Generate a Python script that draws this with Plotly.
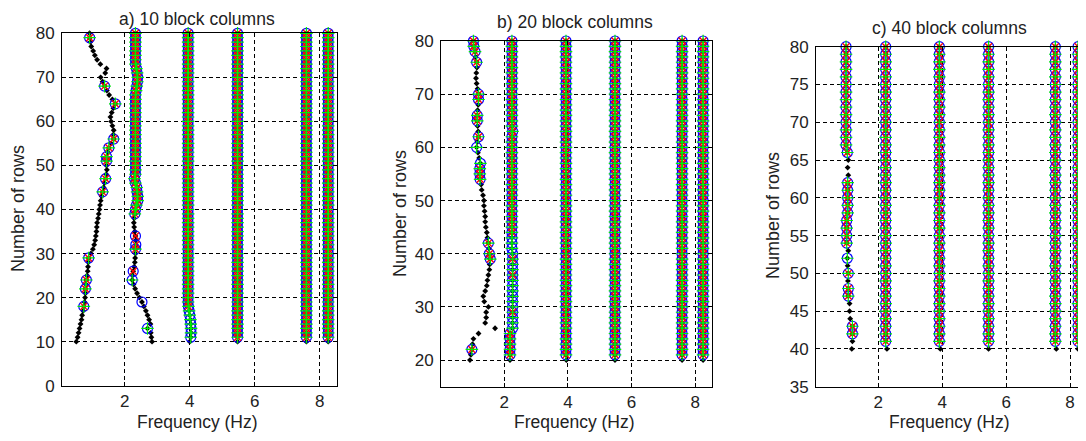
import plotly.graph_objects as go

# ---------------- Panel a) 10 block columns ----------------
ROWS_A = [10, 11, 12, 13, 14, 15, 16, 17, 18, 19,
          20, 21, 22, 23, 24, 25, 26, 27, 28, 29,
          30, 31, 32, 33, 34, 35, 36, 37, 38, 39,
          40, 41, 42, 43, 44, 45, 46, 47, 48, 49,
          50, 51, 52, 53, 54, 55, 56, 57, 58, 59,
          60, 61, 62, 63, 64, 65, 66, 67, 68, 69,
          70, 71, 72, 73, 74, 75, 76, 77, 78, 79, 80]
A_M1 = [0.51, 0.55, 0.58, 0.61, 0.64, 0.67, 0.69, 0.72, 0.74, 0.76,
        0.78, 0.79, 0.79, 0.81, 0.82, 0.84, 0.86, 0.87, 0.88, 0.89,
        0.96, 1.02, 1.06, 1.09, 1.11, 1.13, 1.14, 1.15, 1.18, 1.20,
        1.22, 1.24, 1.26, 1.29, 1.32, 1.35, 1.38, 1.41, 1.43, 1.45,
        1.44, 1.44, 1.44, 1.48, 1.51, 1.58, 1.66, 1.65, 1.66, 1.62,
        1.58, 1.56, 1.60, 1.65, 1.71, 1.62, 1.52, 1.45, 1.38, 1.32,
        1.26, 1.40, 1.44, 1.25, 1.15, 1.08, 1.03, 0.97, 0.94, 0.92, 0.92]
A_M2 = [2.84, 2.82, 2.80, 2.70, 2.79, 2.75, 2.70, 2.65, 2.59, 2.53,
        2.45, 2.38, 2.32, 2.27, 2.23, 2.24, 2.26, 2.29, 2.31, 2.32,
        2.33, 2.33, 2.34, 2.34, 2.33, 2.31, 2.29, 2.28, 2.29, 2.31,
        2.33, 2.36, 2.40, 2.40, 2.38, 2.37, 2.33, 2.30, 2.33, 2.33,
        2.33, 2.33, 2.33, 2.33, 2.33, 2.33, 2.33, 2.33, 2.33, 2.33,
        2.33, 2.33, 2.33, 2.33, 2.33, 2.33, 2.33, 2.35, 2.37, 2.39,
        2.40, 2.38, 2.36, 2.33, 2.33, 2.33, 2.33, 2.33, 2.33, 2.33, 2.33]
A_M3 = [4.00, 4.03, 4.04, 4.04, 4.03, 4.02, 4.00, 3.98, 3.96, 3.95,
        3.95, 3.95, 3.95, 3.95, 3.95, 3.95, 3.95, 3.95, 3.95, 3.95,
        3.95, 3.95, 3.95, 3.95, 3.95, 3.95, 3.95, 3.95, 3.95, 3.95,
        3.95, 3.95, 3.95, 3.95, 3.95, 3.95, 3.95, 3.95, 3.95, 3.95,
        3.95, 3.95, 3.95, 3.95, 3.95, 3.95, 3.95, 3.95, 3.95, 3.95,
        3.95, 3.95, 3.95, 3.95, 3.95, 3.95, 3.95, 3.95, 3.95, 3.95,
        3.95, 3.95, 3.95, 3.95, 3.95, 3.95, 3.95, 3.95, 3.95, 3.95, 3.95]
A_M4 = [5.47, 5.47, 5.47, 5.47, 5.47, 5.47, 5.47, 5.47, 5.47, 5.47,
        5.47, 5.47, 5.47, 5.47, 5.47, 5.47, 5.47, 5.47, 5.47, 5.47,
        5.47, 5.47, 5.47, 5.47, 5.47, 5.47, 5.47, 5.47, 5.47, 5.47,
        5.47, 5.47, 5.47, 5.47, 5.47, 5.47, 5.47, 5.47, 5.47, 5.47,
        5.47, 5.47, 5.47, 5.47, 5.47, 5.47, 5.47, 5.47, 5.47, 5.47,
        5.47, 5.47, 5.47, 5.47, 5.47, 5.47, 5.47, 5.47, 5.47, 5.47,
        5.47, 5.47, 5.47, 5.47, 5.47, 5.47, 5.47, 5.47, 5.47, 5.47, 5.47]
A_M5 = [7.59, 7.59, 7.59, 7.59, 7.59, 7.59, 7.59, 7.59, 7.59, 7.59,
        7.59, 7.59, 7.59, 7.59, 7.59, 7.59, 7.59, 7.59, 7.59, 7.59,
        7.59, 7.59, 7.59, 7.59, 7.59, 7.59, 7.59, 7.59, 7.59, 7.59,
        7.59, 7.59, 7.59, 7.59, 7.59, 7.59, 7.59, 7.59, 7.59, 7.59,
        7.59, 7.59, 7.59, 7.59, 7.59, 7.59, 7.59, 7.59, 7.59, 7.59,
        7.59, 7.59, 7.59, 7.59, 7.59, 7.59, 7.59, 7.59, 7.59, 7.59,
        7.59, 7.59, 7.59, 7.59, 7.59, 7.59, 7.59, 7.59, 7.59, 7.59, 7.59]
A_M6 = [8.26, 8.26, 8.26, 8.26, 8.26, 8.26, 8.26, 8.26, 8.26, 8.26,
        8.26, 8.26, 8.26, 8.26, 8.26, 8.26, 8.26, 8.26, 8.26, 8.26,
        8.26, 8.26, 8.26, 8.26, 8.26, 8.26, 8.26, 8.26, 8.26, 8.26,
        8.26, 8.26, 8.26, 8.26, 8.26, 8.26, 8.26, 8.26, 8.26, 8.26,
        8.26, 8.26, 8.26, 8.26, 8.26, 8.26, 8.26, 8.26, 8.26, 8.26,
        8.26, 8.26, 8.26, 8.26, 8.26, 8.26, 8.26, 8.26, 8.26, 8.26,
        8.26, 8.26, 8.26, 8.26, 8.26, 8.26, 8.26, 8.26, 8.26, 8.26, 8.26]
# rows where each identification method marks a mode (circle / x / plus)
A_M1_O = [18, 22, 24, 29, 44, 47, 51, 52, 54, 56, 64, 68, 79]
A_M1_X = [18, 22, 24, 29, 44, 47, 51, 52, 54, 56, 64, 68, 79]
A_M1_P = [18, 22, 24, 29, 44, 47, 51, 52, 54, 56, 64, 68, 79]
A_M2_O = [13, 19, 24, 26, 31, 32, 34] + ROWS_A[29:]
A_M2_X = [26, 31, 32, 34] + ROWS_A[29:]
A_M2_P = [13, 24, 31] + ROWS_A[29:]
A_M3_X = ROWS_A[8:]
A_COL = ROWS_A[1:]

# ---------------- Panel b) 20 block columns ----------------
ROWS_B = [20, 21, 22, 23, 24, 25, 26, 27, 28, 29,
          30, 31, 32, 33, 34, 35, 36, 37, 38, 39,
          40, 41, 42, 43, 44, 45, 46, 47, 48, 49,
          50, 51, 52, 53, 54, 55, 56, 57, 58, 59,
          60, 61, 62, 63, 64, 65, 66, 67, 68, 69,
          70, 71, 72, 73, 74, 75, 76, 77, 78, 79, 80]
B_M1 = [0.92, 0.95, 0.98, 1.00, 1.03, 1.19, 1.71, 1.40, 1.43, 1.43,
        1.50, 1.37, 1.34, 1.40, 1.45, 1.47, 1.50, 1.53, 1.54, 1.56,
        1.53, 1.52, 1.50, 1.47, 1.45, 1.42, 1.40, 1.40, 1.38, 1.36,
        1.36, 1.33, 1.29, 1.27, 1.24, 1.23, 1.23, 1.25, 1.21, 1.17,
        1.13, 1.15, 1.19, 1.18, 1.16, 1.15, 1.15, 1.16, 1.18, 1.19,
        1.19, 1.16, 1.13, 1.11, 1.12, 1.14, 1.13, 1.10, 1.08, 1.04, 1.03]
B_M2 = [2.18, 2.18, 2.18, 2.18, 2.18, 2.18, 2.26, 2.26, 2.26, 2.26,
        2.26, 2.26, 2.26, 2.26, 2.26, 2.26, 2.26, 2.26, 2.26, 2.26,
        2.26, 2.24, 2.24, 2.24, 2.24, 2.24, 2.24, 2.24, 2.24, 2.24,
        2.24, 2.24, 2.24, 2.24, 2.24, 2.24, 2.24, 2.24, 2.24, 2.24,
        2.24, 2.24, 2.24, 2.26, 2.24, 2.24, 2.24, 2.24, 2.24, 2.24,
        2.24, 2.24, 2.24, 2.24, 2.24, 2.24, 2.24, 2.24, 2.24, 2.24, 2.24]
B_M3 = [3.95, 3.94, 3.94, 3.94, 3.94, 3.94, 3.94, 3.94, 3.94, 3.94,
        3.94, 3.94, 3.94, 3.94, 3.94, 3.94, 3.94, 3.94, 3.94, 3.94,
        3.94, 3.94, 3.94, 3.94, 3.94, 3.94, 3.94, 3.94, 3.94, 3.94,
        3.94, 3.94, 3.94, 3.94, 3.94, 3.94, 3.94, 3.94, 3.94, 3.94,
        3.94, 3.94, 3.94, 3.94, 3.94, 3.94, 3.94, 3.94, 3.94, 3.94,
        3.94, 3.94, 3.94, 3.94, 3.94, 3.94, 3.94, 3.94, 3.94, 3.94, 3.94]
B_M4 = [5.48, 5.48, 5.48, 5.48, 5.48, 5.48, 5.48, 5.48, 5.48, 5.48,
        5.48, 5.48, 5.48, 5.48, 5.48, 5.48, 5.48, 5.48, 5.48, 5.48,
        5.48, 5.48, 5.48, 5.48, 5.48, 5.48, 5.48, 5.48, 5.48, 5.48,
        5.48, 5.48, 5.48, 5.48, 5.48, 5.48, 5.48, 5.48, 5.48, 5.48,
        5.48, 5.48, 5.48, 5.48, 5.48, 5.48, 5.48, 5.48, 5.48, 5.48,
        5.48, 5.48, 5.48, 5.48, 5.48, 5.48, 5.48, 5.48, 5.48, 5.48, 5.48]
B_M5 = [7.59, 7.59, 7.59, 7.59, 7.59, 7.59, 7.59, 7.59, 7.59, 7.59,
        7.59, 7.59, 7.59, 7.59, 7.59, 7.59, 7.59, 7.59, 7.59, 7.59,
        7.59, 7.59, 7.59, 7.59, 7.59, 7.59, 7.59, 7.59, 7.59, 7.59,
        7.59, 7.59, 7.59, 7.59, 7.59, 7.59, 7.59, 7.59, 7.59, 7.59,
        7.59, 7.59, 7.59, 7.59, 7.59, 7.59, 7.59, 7.59, 7.59, 7.59,
        7.59, 7.59, 7.59, 7.59, 7.59, 7.59, 7.59, 7.59, 7.59, 7.59, 7.59]
B_M6 = [8.25, 8.25, 8.25, 8.25, 8.25, 8.25, 8.25, 8.25, 8.25, 8.25,
        8.25, 8.25, 8.25, 8.25, 8.25, 8.25, 8.25, 8.25, 8.25, 8.25,
        8.25, 8.25, 8.25, 8.25, 8.25, 8.25, 8.25, 8.25, 8.25, 8.25,
        8.25, 8.25, 8.25, 8.25, 8.25, 8.25, 8.25, 8.25, 8.25, 8.25,
        8.25, 8.25, 8.25, 8.25, 8.25, 8.25, 8.25, 8.25, 8.25, 8.25,
        8.25, 8.25, 8.25, 8.25, 8.25, 8.25, 8.25, 8.25, 8.25, 8.25, 8.25]
B_M1_O = [22, 39, 40, 42, 54, 55, 56, 57, 60, 62, 65, 66, 69, 70, 76, 78, 79, 80]
B_M1_X = [22, 39, 40, 42, 54, 55, 56, 62, 65, 66, 69, 70, 76, 78, 79, 80]
B_M1_P = [22, 39, 40, 42, 54, 55, 56, 57, 60, 62, 65, 66, 69, 70, 76, 78, 79, 80]
B_M2_X = [21, 22, 23, 24, 25, 29, 36, 39] + ROWS_B[24:]
B_COL = ROWS_B[1:]

# ---------------- Panel c) 40 block columns ----------------
ROWS_C = [40, 41, 42, 43, 44, 45, 46, 47, 48, 49,
          50, 51, 52, 53, 54, 55, 56, 57, 58, 59,
          60, 61, 62, 63, 64, 65, 66, 67, 68, 69,
          70, 71, 72, 73, 74, 75, 76, 77, 78, 79, 80]
C_M1 = [1.17, 1.19, 1.19, 1.19, 1.12, 1.10, 1.10, 1.06, 1.06, 1.05,
        1.06, 1.04, 1.03, 1.06, 1.01, 1.01, 1.01, 1.01, 1.04, 1.04,
        1.04, 1.04, 1.04, 1.06, 1.04, 1.06, 1.03, 0.99, 0.99, 0.99,
        0.99, 0.99, 0.99, 0.99, 0.99, 0.99, 0.99, 0.99, 0.99, 0.99, 0.99]
C_M2 = [2.27, 2.23, 2.23, 2.23, 2.23, 2.23, 2.23, 2.23, 2.23, 2.23,
        2.23, 2.23, 2.23, 2.23, 2.23, 2.23, 2.23, 2.23, 2.23, 2.23,
        2.23, 2.23, 2.23, 2.23, 2.23, 2.23, 2.23, 2.23, 2.23, 2.23,
        2.23, 2.23, 2.23, 2.23, 2.23, 2.23, 2.23, 2.23, 2.23, 2.23, 2.23]
C_M3 = [3.94, 3.91, 3.91, 3.91, 3.91, 3.91, 3.91, 3.91, 3.91, 3.91,
        3.91, 3.91, 3.91, 3.91, 3.91, 3.91, 3.91, 3.91, 3.91, 3.91,
        3.91, 3.91, 3.91, 3.91, 3.91, 3.91, 3.91, 3.91, 3.91, 3.91,
        3.91, 3.91, 3.91, 3.91, 3.91, 3.91, 3.91, 3.91, 3.91, 3.91, 3.91]
C_M4 = [5.45, 5.45, 5.45, 5.45, 5.45, 5.45, 5.45, 5.45, 5.45, 5.45,
        5.45, 5.45, 5.45, 5.45, 5.45, 5.45, 5.45, 5.45, 5.45, 5.45,
        5.45, 5.45, 5.45, 5.45, 5.45, 5.45, 5.45, 5.45, 5.45, 5.45,
        5.45, 5.45, 5.45, 5.45, 5.45, 5.45, 5.45, 5.45, 5.45, 5.45, 5.45]
C_M5 = [7.57, 7.54, 7.54, 7.54, 7.54, 7.54, 7.54, 7.54, 7.54, 7.54,
        7.54, 7.54, 7.54, 7.54, 7.54, 7.54, 7.54, 7.54, 7.54, 7.54,
        7.54, 7.54, 7.54, 7.54, 7.54, 7.54, 7.54, 7.54, 7.54, 7.54,
        7.54, 7.54, 7.54, 7.54, 7.54, 7.54, 7.54, 7.54, 7.54, 7.54, 7.54]
C_M6 = [8.25, 8.25, 8.25, 8.25, 8.25, 8.25, 8.25, 8.25, 8.25, 8.25,
        8.25, 8.25, 8.25, 8.25, 8.25, 8.25, 8.25, 8.25, 8.25, 8.25,
        8.25, 8.25, 8.25, 8.25, 8.25, 8.25, 8.25, 8.25, 8.25, 8.25,
        8.25, 8.25, 8.25, 8.25, 8.25, 8.25, 8.25, 8.25, 8.25, 8.25, 8.25]
C_M1_O = [42, 43, 47, 48, 50, 52, 54, 55, 56, 57, 58, 59, 60, 61, 62] + ROWS_C[26:]
C_M1_X = [42, 43, 47, 48, 50, 54, 55, 56, 57, 58, 59, 60, 61, 62] + ROWS_C[26:]
C_M1_P = [42, 43, 47, 48, 50, 52, 54, 55, 56, 57, 58, 59, 60, 61, 62] + ROWS_C[26:]
C_COL = ROWS_C[1:]

TITLES = ["a) 10 block columns", "b) 20 block columns", "c) 40 block columns"]
X_TICKS = [2, 4, 6, 8]
Y_TICKS_A = [0, 10, 20, 30, 40, 50, 60, 70, 80]
Y_TICKS_B = [20, 30, 40, 50, 60, 70, 80]
Y_TICKS_C = [35, 40, 45, 50, 55, 60, 65, 70, 75, 80]

FONT = "Liberation Sans, Arial, sans-serif"


def pick(rows, modes, marks):
    xs, ys = [], []
    for vals, mrows in zip(modes, marks):
        for r in mrows:
            i = rows.index(r)
            xs.append(vals[i])
            ys.append(r)
    return xs, ys


panels = [
    dict(rows=ROWS_A, modes=[A_M1, A_M2, A_M3, A_M4, A_M5, A_M6],
         O=[A_M1_O, A_M2_O, A_COL, A_COL, A_COL, A_COL],
         X=[A_M1_X, A_M2_X, A_M3_X, A_COL, A_COL, A_COL],
         P=[A_M1_P, A_M2_P, A_COL, A_COL, A_COL, A_COL], ax=""),
    dict(rows=ROWS_B, modes=[B_M1, B_M2, B_M3, B_M4, B_M5, B_M6],
         O=[B_M1_O, B_COL, B_COL, B_COL, B_COL, B_COL],
         X=[B_M1_X, B_M2_X, B_COL, B_COL, B_COL, B_COL],
         P=[B_M1_P, B_COL, B_COL, B_COL, B_COL, B_COL], ax="2"),
    dict(rows=ROWS_C, modes=[C_M1, C_M2, C_M3, C_M4, C_M5, C_M6],
         O=[C_M1_O, C_COL, C_COL, C_COL, C_COL, C_COL],
         X=[C_M1_X, C_COL, C_COL, C_COL, C_COL, C_COL],
         P=[C_M1_P, C_COL, C_COL, C_COL, C_COL, C_COL], ax="3"),
]

fig = go.Figure()
for p in panels:
    xa, ya = "x" + p["ax"], "y" + p["ax"]
    dx, dy = [], []
    for vals in p["modes"]:
        dx += vals
        dy += p["rows"]
    fig.add_trace(go.Scatter(x=dx, y=dy, mode="markers", xaxis=xa, yaxis=ya,
                             cliponaxis=False, showlegend=False, hoverinfo="skip",
                             marker=dict(symbol="diamond", size=4.5, color="black")))
    ox, oy = pick(p["rows"], p["modes"], p["O"])
    fig.add_trace(go.Scatter(x=ox, y=oy, mode="markers", xaxis=xa, yaxis=ya,
                             cliponaxis=False, showlegend=False, hoverinfo="skip",
                             marker=dict(symbol="circle-open", size=10, color="#0000ff",
                                         line=dict(width=1.2, color="#0000ff"))))
    xx, xy = pick(p["rows"], p["modes"], p["X"])
    fig.add_trace(go.Scatter(x=xx, y=xy, mode="markers", xaxis=xa, yaxis=ya,
                             cliponaxis=False, showlegend=False, hoverinfo="skip",
                             marker=dict(symbol="x-thin-open", size=7, color="#ff0000",
                                         line=dict(width=1.3, color="#ff0000"))))
    px_, py_ = pick(p["rows"], p["modes"], p["P"])
    fig.add_trace(go.Scatter(x=px_, y=py_, mode="markers", xaxis=xa, yaxis=ya,
                             cliponaxis=False, showlegend=False, hoverinfo="skip",
                             marker=dict(symbol="cross-thin-open", size=9, color="#00ee00",
                                         line=dict(width=1.2, color="#00ee00"))))

W, H = 1086, 441
OFF = 8  # the page body adds an 8px margin: positions below are shifted back by it


def xdom(l, r):
    return [(l - OFF) / W, min((r - OFF) / W, 1.0)]


def ydom(top, bottom):
    return [1 - (bottom - OFF) / H, 1 - (top - OFF) / H]


axis_common = dict(showline=True, linecolor="black", linewidth=1, automargin=False,
                   ticks="inside", ticklen=4, tickcolor="black",
                   showgrid=True, gridcolor="black", gridwidth=1, griddash="4px,3px",
                   zeroline=False, tickfont=dict(family=FONT, size=17, color="#222"))

layout = dict(width=W, height=H, margin=dict(l=0, r=0, t=0, b=0, autoexpand=False),
              paper_bgcolor="white", plot_bgcolor="white", showlegend=False)

specs = [
    ("", xdom(62, 337), ydom(33.3, 385.7), [0.07, 8.53], [0, 80], Y_TICKS_A),
    ("2", xdom(441, 712), ydom(41, 386.7), [0.01, 8.53], [15, 80], Y_TICKS_B),
    ("3", xdom(816, 1087), ydom(46.7, 386.7), [0.05, 8.53], [35, 80], Y_TICKS_C),
]
for ax, xd, yd, xr, yr, yt in specs:
    layout["xaxis" + ax] = dict(axis_common, domain=xd, range=xr, tickvals=X_TICKS,
                                anchor="y" + ax, mirror="ticks")
    layout["yaxis" + ax] = dict(axis_common, domain=yd, range=yr, tickvals=yt,
                                anchor="x" + ax, mirror="ticks", ticklabelstandoff=3)

fig.update_layout(**layout)


def px_x(x):
    return (x - OFF) / W


def px_y(y):
    return 1 - (y - OFF) / H


ann = []
title_pos = [(197, None), (575, 22), (949, 28)]
for t, (x, y) in zip(TITLES, title_pos):
    if y is None:
        ann.append(dict(text=t, x=px_x(x), y=1.0, xref="paper", yref="paper",
                        xanchor="center", yanchor="top", showarrow=False, borderpad=0,
                        font=dict(family=FONT, size=17.5, color="#222")))
    else:
        ann.append(dict(text=t, x=px_x(x), y=px_y(y), xref="paper", yref="paper",
                        xanchor="center", yanchor="middle", showarrow=False,
                        font=dict(family=FONT, size=17.5, color="#222")))
for x in [197, 574, 949]:
    ann.append(dict(text="Frequency (Hz)", x=px_x(x), y=px_y(422), xref="paper", yref="paper",
                    xanchor="center", yanchor="middle", showarrow=False,
                    font=dict(family=FONT, size=17.5, color="#222")))
for x, y in [(18, 209), (400, 214), (773, 216)]:
    ann.append(dict(text="Number of rows", x=px_x(x), y=px_y(y), xref="paper", yref="paper",
                    xanchor="center", yanchor="middle", showarrow=False, textangle=-90,
                    font=dict(family=FONT, size=18, color="#222")))
fig.update_layout(annotations=ann)

fig.write_html("out.html")
